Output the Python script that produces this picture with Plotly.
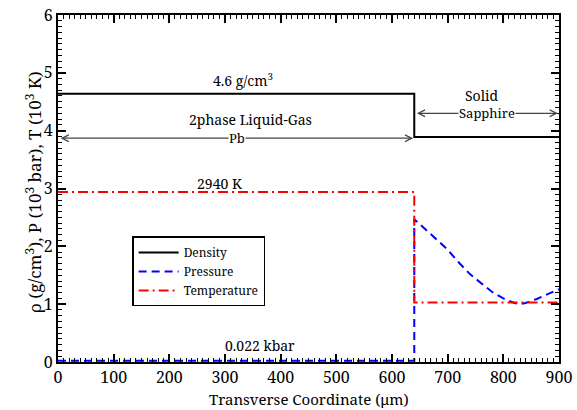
import plotly.graph_objects as go

# Data
dens_x = [0, 640, 640, 900]
dens_y = [4.64, 4.64, 3.89, 3.89]
pres_x = [0, 640, 640, 660, 680, 700, 720, 740, 760, 780, 800, 820, 830, 840, 860, 880, 900]
pres_y = [0.022, 0.022, 2.47, 2.30, 2.12, 1.94, 1.72, 1.52, 1.36, 1.21, 1.10, 1.02, 1.00, 1.02, 1.09, 1.17, 1.26]
temp_x = [0, 640, 640, 900]
temp_y = [2.94, 2.94, 1.03, 1.03]
x_ticks = [0, 100, 200, 300, 400, 500, 600, 700, 800, 900]
y_ticks = [0, 1, 2, 3, 4, 5, 6]

FONT = "Noto Serif"

fig = go.Figure()
fig.add_trace(go.Scatter(x=dens_x, y=dens_y, mode="lines", name="Density",
                         line=dict(color="black", width=2)))
fig.add_trace(go.Scatter(x=pres_x, y=pres_y, mode="lines", name="Pressure",
                         line=dict(color="#0000ff", width=2, dash="8px,5px")))
fig.add_trace(go.Scatter(x=temp_x, y=temp_y, mode="lines", name="Temperature",
                         line=dict(color="#ff0000", width=2, dash="10px,4px,2px,4px")))

anns = []
def arrow(x0, x1, y, color="#444444"):
    anns.append(dict(x=x1, y=y, ax=x0, ay=y, xref="x", yref="y", axref="x", ayref="y",
                     text="", showarrow=True, arrowhead=5, startarrowhead=5,
                     arrowside="end+start", arrowwidth=1.2, arrowsize=1.1,
                     startarrowsize=1.1, arrowcolor=color))
arrow(2, 638, 3.87)
arrow(642, 898, 4.3)

def label(x, y, text, size=14, bg=None):
    d = dict(x=x, y=y, xref="x", yref="y", text=text, showarrow=False,
             font=dict(family=FONT, size=size, color="black"))
    if bg:
        d["bgcolor"] = bg
        d["borderpad"] = 0
    anns.append(d)

label(332, 4.88, "4.6 g/cm<sup>3</sup>", 14)
label(346, 4.2, "2phase Liquid-Gas", 14)
label(322, 3.87, "Pb", 13, bg="white")
label(290, 3.08, "2940 K", 14)
label(363, 0.28, "0.022 kbar", 14)
label(762, 4.6, "Solid", 14)
label(770, 4.3, "Sapphire", 13, bg="white")

# axis titles
anns.append(dict(x=0.5, y=-0.106, xref="paper", yref="paper", yanchor="middle",
                 text="Transverse Coordinate (μm)", showarrow=False,
                 font=dict(family=FONT, size=15, color="black")))
anns.append(dict(x=-0.077, y=0.49, xref="paper", yref="paper", textangle=-90,
                 text="ρ (g/cm<sup>3</sup>), P (10<sup>3</sup> bar), T (10<sup>3</sup> K)",
                 showarrow=False, font=dict(family=FONT, size=17, color="black")))

fig.update_layout(
    width=577, height=410, autosize=False,
    margin=dict(l=58, r=18, t=15, b=48, autoexpand=False),
    plot_bgcolor="white", paper_bgcolor="white",
    font=dict(family=FONT, color="black"),
    showlegend=True,
    legend=dict(x=0.148, y=0.362, xanchor="left", yanchor="top",
                bgcolor="white", bordercolor="black", borderwidth=1.5,
                font=dict(family=FONT, size=12, color="black"),
                tracegroupgap=0, itemwidth=40),
    annotations=anns,
)
axis_common = dict(showgrid=False, zeroline=False, showline=True, linecolor="black",
                   linewidth=2, mirror="allticks", ticks="inside", ticklen=8,
                   tickwidth=1.5, tickcolor="black", automargin=False,
                   tickfont=dict(family=FONT, size=16, color="black"))
fig.update_xaxes(range=[0, 900], tickvals=x_ticks, **axis_common,
                 minor=dict(ticks="inside", ticklen=4, dtick=10, tickcolor="black", tickwidth=1))
fig.update_yaxes(range=[0, 6], tickvals=y_ticks, **axis_common,
                 minor=dict(ticks="inside", ticklen=4, dtick=0.1, tickcolor="black", tickwidth=1))

fig.write_html("out.html")
